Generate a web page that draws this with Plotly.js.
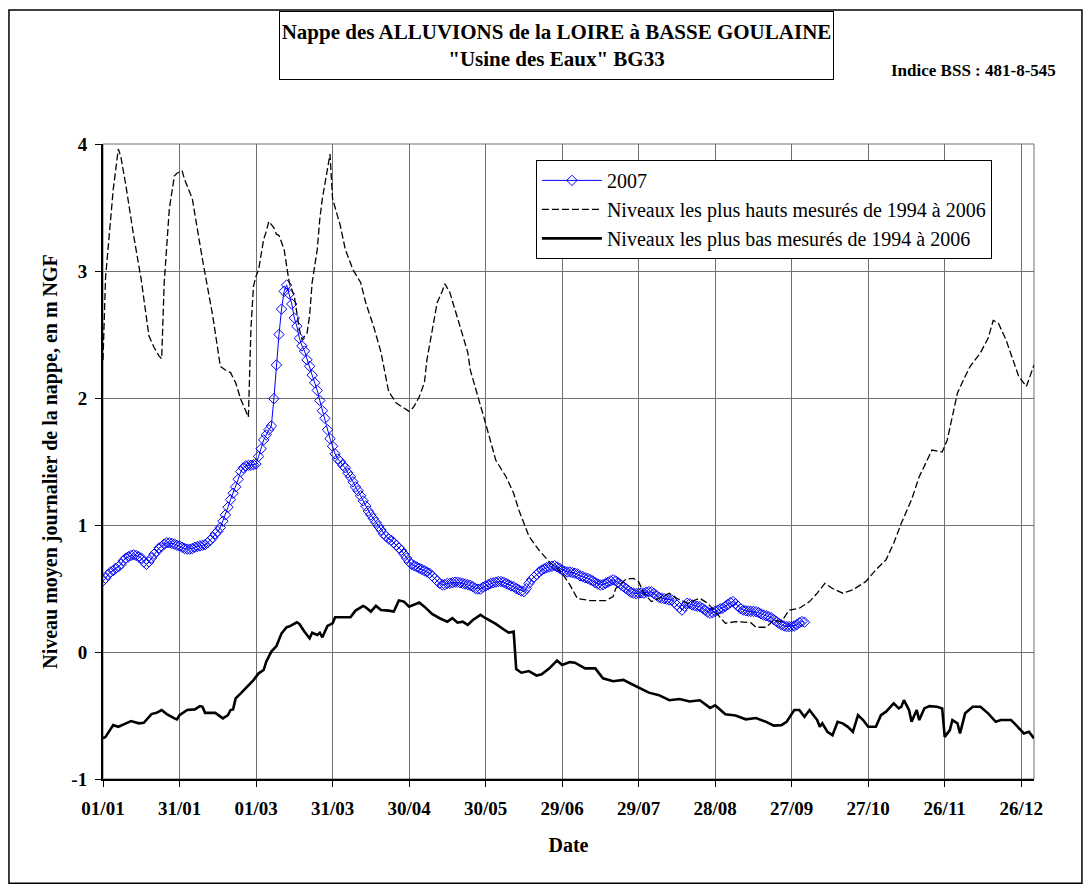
<!DOCTYPE html>
<html>
<head>
<meta charset="utf-8">
<script src="https://cdn.plot.ly/plotly-3.0.1.min.js"></script>
<style>html,body{margin:0;padding:0;background:#fff;}#chart{width:1085px;height:884px;}</style>
</head>
<body>
<div id="chart"></div>
<script>
// Tick labels (day index in a 366-day year, every 30 days)
const tickDays = [0, 30, 60, 90, 120, 150, 180, 210, 240, 270, 300, 330, 360];
const tickLabels = ["01/01", "31/01", "01/03", "31/03", "30/04", "30/05", "29/06", "29/07", "28/08", "27/09", "27/10", "26/11", "26/12"];
const levelTicks = [-1, 0, 1, 2, 3, 4];
const levelTickLabels = ["-1", "0", "1", "2", "3", "4"];

// 2007 daily levels (m NGF), from day 0
const levels2007 = [
0.56,0.58,0.61,0.63,0.64,0.66,0.67,0.69,0.72,0.74,
0.75,0.76,0.765,0.76,0.75,0.74,0.71,0.69,0.71,0.74,
0.77,0.79,0.82,0.83,0.85,0.86,0.86,0.855,0.85,0.84,
0.835,0.825,0.815,0.81,0.81,0.815,0.825,0.83,0.835,0.84,
0.845,0.86,0.88,0.90,0.93,0.95,0.98,1.03,1.08,1.14,
1.20,1.25,1.30,1.36,1.42,1.45,1.465,1.47,1.47,1.475,
1.48,1.54,1.60,1.67,1.71,1.75,1.78,1.995,2.26,2.50,
2.70,2.84,2.89,2.82,2.74,2.63,2.565,2.47,2.41,2.37,
2.30,2.25,2.18,2.12,2.06,1.98,1.90,1.84,1.75,1.68,
1.62,1.56,1.52,1.50,1.47,1.45,1.41,1.38,1.34,1.30,
1.27,1.23,1.19,1.15,1.11,1.08,1.05,1.02,0.99,0.96,
0.93,0.91,0.89,0.88,0.86,0.84,0.82,0.80,0.77,0.74,
0.71,0.69,0.68,0.67,0.66,0.65,0.64,0.63,0.62,0.60,
0.58,0.56,0.54,0.53,0.53,0.54,0.54,0.545,0.55,0.55,
0.545,0.54,0.535,0.53,0.525,0.515,0.50,0.495,0.495,0.51,
0.52,0.53,0.54,0.545,0.55,0.555,0.555,0.55,0.54,0.53,
0.52,0.515,0.50,0.49,0.48,0.475,0.50,0.54,0.57,0.59,
0.61,0.63,0.645,0.655,0.665,0.67,0.675,0.68,0.67,0.66,
0.645,0.635,0.63,0.63,0.625,0.62,0.615,0.60,0.595,0.585,
0.58,0.57,0.56,0.545,0.535,0.528,0.53,0.54,0.55,0.56,
0.568,0.56,0.545,0.53,0.515,0.50,0.485,0.47,0.463,0.46,
0.462,0.465,0.463,0.47,0.475,0.475,0.46,0.445,0.43,0.423,
0.42,0.415,0.41,0.41,0.39,0.37,0.35,0.33,0.36,0.384,
0.38,0.37,0.365,0.36,0.357,0.345,0.33,0.315,0.305,0.31,
0.32,0.33,0.34,0.345,0.36,0.375,0.39,0.397,0.38,0.36,
0.34,0.33,0.325,0.322,0.32,0.32,0.318,0.31,0.30,0.29,
0.285,0.278,0.27,0.255,0.24,0.225,0.213,0.205,0.20,0.20,
0.20,0.205,0.215,0.23,0.24,0.235
];
const days2007 = levels2007.map((_, i) => i);

// Highest levels 1994-2006 (day index, m NGF)
const highDays = [0,1,3,4,6,7,9,12,15,18,20,22,23,24,26,28,29,31,32,35,39,43,46,48,50,52,54,57,58,59,60,61,63,64,65,67,68,69,71,72,73,75,76,77,78,80,81,82,84,85,86,88,89,90,93,95,98,101,103,106,109,111,112,115,118,120,121,122,124,126,127,129,131,133,134,136,139,141,143,144,146,148,150,152,154,158,161,163,165,167,171,175,180,183,186,191,197,200,201,205,208,210,212,215,218,222,225,229,234,237,240,244,248,254,256,260,263,266,269,273,277,280,283,286,290,294,299,303,307,310,313,317,320,323,325,329,331,333,335,338,340,344,347,349,351,354,357,359,362,365];
const highLevels = [2.30,2.95,3.41,3.64,3.96,3.90,3.67,3.28,2.93,2.49,2.40,2.33,2.31,2.91,3.49,3.75,3.77,3.79,3.72,3.57,3.09,2.65,2.25,2.22,2.20,2.12,1.99,1.85,2.55,2.88,2.96,3.01,3.25,3.31,3.39,3.34,3.29,3.28,3.17,3.04,2.91,2.80,2.65,2.54,2.46,2.51,2.65,2.91,3.17,3.41,3.57,3.80,3.92,3.57,3.36,3.17,3.01,2.91,2.75,2.57,2.36,2.15,2.05,1.96,1.92,1.895,1.91,1.935,2.01,2.12,2.30,2.51,2.75,2.84,2.90,2.83,2.62,2.49,2.36,2.22,2.07,1.94,1.80,1.65,1.51,1.38,1.25,1.12,1.02,0.91,0.80,0.71,0.62,0.53,0.42,0.405,0.405,0.436,0.50,0.573,0.58,0.554,0.463,0.397,0.423,0.463,0.423,0.384,0.423,0.384,0.318,0.226,0.239,0.231,0.195,0.195,0.252,0.239,0.33,0.345,0.397,0.463,0.54,0.50,0.463,0.49,0.554,0.647,0.726,0.857,1.015,1.20,1.38,1.50,1.59,1.575,1.67,1.856,2.04,2.17,2.25,2.356,2.47,2.61,2.59,2.46,2.29,2.17,2.09,2.26];

// Lowest levels 1994-2006 (day index, m NGF)
const lowDays = [0,1,4,6,9,11,14,16,19,21,23,25,28,29,30,33,36,38,39,40,44,46,47,49,50,51,52,54,56,59,61,63,64,66,68,70,72,73,76,77,79,81,82,84,85,86,88,90,91,97,99,102,103,105,107,109,112,114,116,118,120,122,124,126,129,132,135,137,139,141,143,145,148,150,154,157,159,161,162,164,167,170,172,175,178,180,183,185,189,193,196,200,204,207,210,214,218,222,226,230,234,238,240,244,248,252,256,260,263,266,268,271,273,275,277,280,281,282,284,286,288,290,292,294,296,298,300,303,305,307,310,312,313,314,316,317,319,320,322,324,327,329,330,332,333,335,336,338,341,344,347,350,352,356,358,361,363,365];
const lowLevels = [-0.68,-0.668,-0.576,-0.589,-0.562,-0.544,-0.562,-0.557,-0.489,-0.479,-0.457,-0.489,-0.523,-0.531,-0.497,-0.457,-0.452,-0.426,-0.431,-0.479,-0.479,-0.505,-0.523,-0.497,-0.457,-0.452,-0.365,-0.326,-0.286,-0.221,-0.168,-0.142,-0.076,0.003,0.047,0.147,0.195,0.20,0.234,0.221,0.160,0.108,0.152,0.134,0.152,0.116,0.205,0.226,0.274,0.274,0.326,0.363,0.352,0.318,0.363,0.331,0.326,0.318,0.405,0.397,0.357,0.371,0.389,0.357,0.30,0.266,0.239,0.266,0.231,0.239,0.213,0.252,0.292,0.266,0.221,0.179,0.152,0.160,-0.135,-0.163,-0.150,-0.185,-0.176,-0.129,-0.067,-0.103,-0.080,-0.084,-0.129,-0.129,-0.207,-0.23,-0.22,-0.25,-0.28,-0.32,-0.34,-0.38,-0.37,-0.39,-0.38,-0.44,-0.42,-0.49,-0.50,-0.53,-0.52,-0.55,-0.58,-0.576,-0.55,-0.457,-0.457,-0.51,-0.457,-0.536,-0.589,-0.562,-0.628,-0.655,-0.55,-0.562,-0.589,-0.628,-0.497,-0.536,-0.589,-0.589,-0.497,-0.47,-0.405,-0.444,-0.431,-0.379,-0.457,-0.55,-0.457,-0.536,-0.444,-0.426,-0.431,-0.444,-0.668,-0.615,-0.536,-0.562,-0.641,-0.483,-0.431,-0.431,-0.483,-0.55,-0.536,-0.536,-0.576,-0.641,-0.628,-0.68];

const serif = "Liberation Serif";

const traces = [
  {
    x: days2007, y: levels2007, type: "scatter", mode: "lines+markers", name: "2007",
    line: {color: "#0000FF", width: 1},
    marker: {symbol: "diamond-open", size: 8, color: "#0000FF", line: {color: "#0000FF", width: 1}}
  },
  {
    x: highDays, y: highLevels, type: "scatter", mode: "lines",
    name: "Niveaux les plus hauts mesurés de 1994 à 2006",
    line: {color: "#000000", width: 1.3, dash: "7px,3px"}
  },
  {
    x: lowDays, y: lowLevels, type: "scatter", mode: "lines",
    name: "Niveaux les plus bas mesurés de 1994 à 2006",
    line: {color: "#000000", width: 2.6}
  }
];

const layout = {
  width: 1085, height: 884,
  margin: {l: 103, r: 51, t: 144, b: 105},
  paper_bgcolor: "#ffffff", plot_bgcolor: "#ffffff",
  font: {family: serif, color: "#000000"},
  showlegend: true,
  legend: {
    x: 0.465, y: 0.975, xanchor: "left", yanchor: "top",
    bgcolor: "#ffffff", bordercolor: "#000000", borderwidth: 1,
    font: {family: serif, size: 20, color: "#000000"},
    traceorder: "normal", itemwidth: 60
  },
  xaxis: {
    range: [0, 365], tickmode: "array", tickvals: tickDays, ticktext: tickLabels,
    ticks: "outside", ticklen: 6, tickcolor: "#000000", ticklabelstandoff: 5,
    showline: true, linecolor: "#000000", linewidth: 2,
    showgrid: true, gridcolor: "#707070", gridwidth: 1, zeroline: false,
    tickfont: {family: serif, size: 19, weight: "bold", color: "#000000"},
    title: {text: "Date", font: {family: serif, size: 20, weight: "bold", color: "#000000"}, standoff: 20}
  },
  yaxis: {
    range: [-1, 4], tickmode: "array", tickvals: levelTicks, ticktext: levelTickLabels,
    ticks: "outside", ticklen: 6, tickcolor: "#000000", ticklabelstandoff: 4,
    showline: true, linecolor: "#000000", linewidth: 2,
    showgrid: true, gridcolor: "#707070", gridwidth: 1, zeroline: false,
    tickfont: {family: serif, size: 19, weight: "bold", color: "#000000"},
    title: {text: "Niveau moyen journalier de la nappe, en m NGF", font: {family: serif, size: 20, weight: "bold", color: "#000000"}, standoff: 8}
  },
  shapes: [
    {type: "rect", xref: "paper", yref: "paper", x0: 0, x1: 1, y0: 0, y1: 1, line: {color: "#707070", width: 1}, layer: "below"},
    {type: "rect", xref: "paper", yref: "paper", x0: -0.101, x1: 1.0515, y0: -0.164, y1: 1.211, line: {color: "#000000", width: 1.5}}
  ],
  annotations: [
    {
      xref: "paper", yref: "paper", x: 0.4866, y: 1.155, xanchor: "center", yanchor: "middle",
      text: "Nappe des ALLUVIONS de la LOIRE à BASSE GOULAINE<br>\"Usine des Eaux\" BG33",
      showarrow: false, align: "center",
      font: {family: serif, size: 21, weight: "bold", color: "#000000"},
      bordercolor: "#000000", borderwidth: 1, bgcolor: "#ffffff",
      width: 551, height: 65
    },
    {
      xref: "paper", yref: "paper", x: 0.9345, y: 1.1165, xanchor: "center", yanchor: "middle",
      text: "Indice BSS : 481-8-545", showarrow: false,
      font: {family: serif, size: 17, weight: "bold", color: "#000000"}
    }
  ]
};

Plotly.newPlot("chart", traces, layout, {displayModeBar: false, staticPlot: true});
</script>
</body>
</html>
